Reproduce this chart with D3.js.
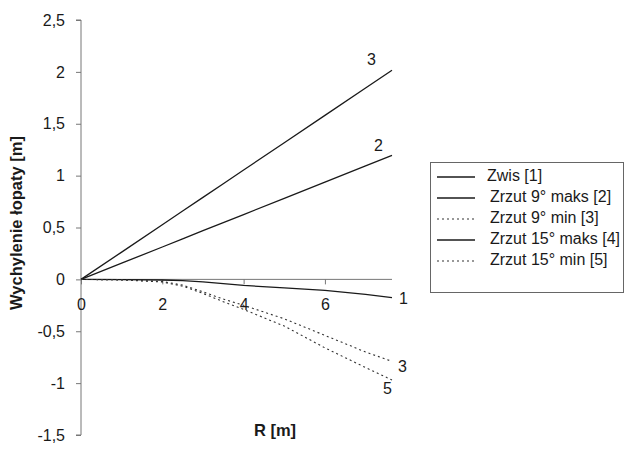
<!DOCTYPE html>
<html>
<head>
<meta charset="utf-8">
<script src="https://cdn.jsdelivr.net/npm/d3@7"></script>
<style>
  html, body { margin: 0; padding: 0; background: #fff; }
  text { font-family: "Liberation Sans", Arial, sans-serif; fill: #1a1a1a; }
</style>
</head>
<body>
<svg id="chart" width="628" height="453"></svg>
<script>
// ---- data ----
const R = [0, 1, 2, 2.5, 3, 3.5, 4, 5, 6, 7, 7.65];
const zwis1      = [0, -0.002, -0.006, -0.012, -0.025, -0.04, -0.058, -0.082, -0.106, -0.145, -0.176];
const maks9_2    = [0, 0.156, 0.312, 0.39, 0.469, 0.547, 0.625, 0.781, 0.937, 1.094, 1.195];
const min9_3     = [0, -0.005, -0.02, -0.055, -0.12, -0.19, -0.25, -0.38, -0.54, -0.70, -0.79];
const maks15_4   = [0, 0.263, 0.527, 0.659, 0.79, 0.922, 1.054, 1.317, 1.581, 1.844, 2.016];
const min15_5    = [0, -0.005, -0.025, -0.065, -0.135, -0.215, -0.29, -0.45, -0.66, -0.85, -0.97];
const seriesNames = ["Zwis [1]", "Zrzut 9° maks [2]", "Zrzut 9° min [3]", "Zrzut 15° maks [4]", "Zrzut 15° min [5]"];
const seriesValues = [zwis1, maks9_2, min9_3, maks15_4, min15_5];
const endLabels = ["1", "2", "3", "3", "5"];
const xTicks = [0, 2, 4, 6];
const yTicks = [-1.5, -1, -0.5, 0, 0.5, 1, 1.5, 2, 2.5];
const xTitle = "R [m]";
const yTitle = "Wychylenie łopaty [m]";

// ---- styles ----
const dashed = [false, false, true, false, true];
const labelOffsets = [[7, 2], [-18, -9], [6, 6], [-25, -9], [-9, 10]];

const svg = d3.select("#chart");
const x = d3.scaleLinear().domain([0, 7.65]).range([81, 392]);
const y = d3.scaleLinear().domain([-1.5, 2.5]).range([435, 20]);
const fmt = d => String(d).replace(".", ",");

// Y axis
const yAxis = svg.append("g").attr("transform", `translate(${x(0)},0)`)
  .call(d3.axisLeft(y).tickValues(yTicks).tickSize(5).tickPadding(11).tickFormat(fmt));
yAxis.select(".domain").attr("stroke", "#777").attr("d", `M-5,${y(2.5)}H0V${y(-1.5)}H-5`);
yAxis.selectAll(".tick line").attr("stroke", "#777");
yAxis.selectAll(".tick text").style("font-size", "16px").attr("fill", "#1a1a1a");

// X axis at y=0
const xAxis = svg.append("g").attr("transform", `translate(0,${y(0)})`)
  .call(d3.axisBottom(x).tickValues(xTicks).tickSize(5).tickPadding(14).tickFormat(fmt));
xAxis.select(".domain").attr("stroke", "#777").attr("d", `M${x(0)},0H${x(7.65)}`);
xAxis.selectAll(".tick line").attr("stroke", "#777");
xAxis.selectAll(".tick text").style("font-size", "16px").attr("fill", "#1a1a1a");

// Lines
const line = d3.line().x((d, i) => x(R[i])).y(d => y(d));
seriesValues.forEach((vals, k) => {
  svg.append("path").datum(vals)
    .attr("d", line)
    .attr("fill", "none")
    .attr("stroke", dashed[k] ? "#333" : "#1a1a1a")
    .attr("stroke-width", dashed[k] ? 1.1 : 1.3)
    .attr("stroke-dasharray", dashed[k] ? "2,3" : null);
  const last = vals.length - 1;
  svg.append("text")
    .attr("x", x(R[last]) + labelOffsets[k][0])
    .attr("y", y(vals[last]) + labelOffsets[k][1])
    .attr("dominant-baseline", "middle")
    .style("font-size", "16px")
    .text(endLabels[k]);
});

// Axis titles
svg.append("text")
  .attr("transform", "translate(18,223) rotate(-90)")
  .attr("text-anchor", "middle").attr("dominant-baseline", "middle")
  .style("font-size", "16.5px").style("font-weight", "bold")
  .text(yTitle);
svg.append("text")
  .attr("x", 275).attr("y", 432)
  .attr("text-anchor", "middle").attr("dominant-baseline", "middle")
  .style("font-size", "16.5px").style("font-weight", "bold")
  .text(xTitle);

// Legend
const lg = svg.append("g");
lg.append("rect").attr("x", 430.5).attr("y", 162.5).attr("width", 193).attr("height", 130)
  .attr("fill", "#fff").attr("stroke", "#666").attr("stroke-width", 1);
seriesNames.forEach((name, k) => {
  const yy = 177 + k * 21;
  lg.append("line").attr("x1", 437).attr("x2", 475).attr("y1", yy).attr("y2", yy)
    .attr("stroke", dashed[k] ? "#333" : "#1a1a1a")
    .attr("stroke-width", dashed[k] ? 1.1 : 1.3)
    .attr("stroke-dasharray", dashed[k] ? "2,3" : null);
  lg.append("text").attr("x", k === 0 ? 487 : 490).attr("y", yy)
    .attr("dominant-baseline", "middle")
    .style("font-size", "16px")
    .text(name);
});
</script>
</body>
</html>
